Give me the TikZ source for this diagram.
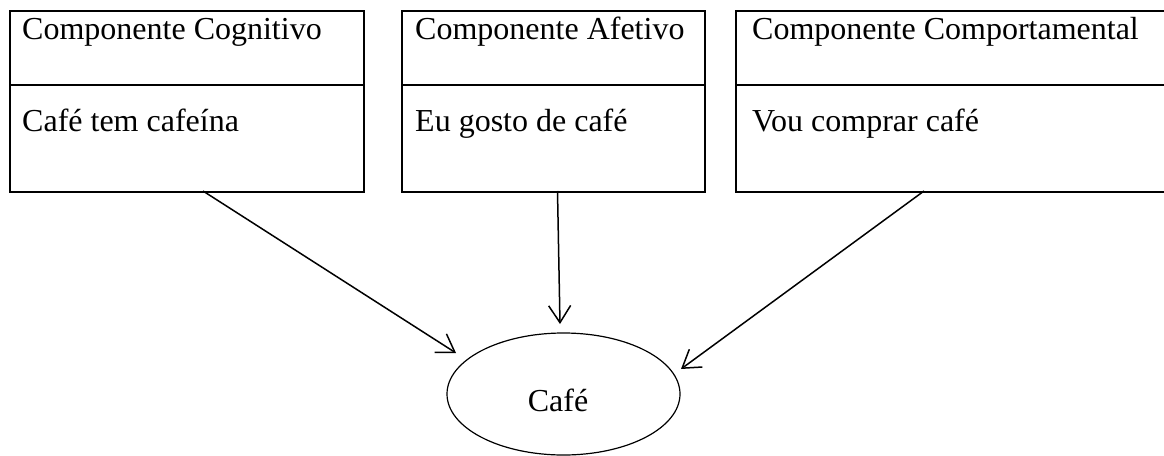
\documentclass[tikz,border=0pt]{standalone}
\usepackage{fontspec}
\setmainfont{Liberation Serif}
\usetikzlibrary{arrows.meta,shapes.geometric}
\begin{document}
\begin{tikzpicture}[x=1pt,y=-1pt,
  box/.style={draw,line width=2pt,rectangle,anchor=north west,inner sep=0pt},
  txt/.style={anchor=base west,inner sep=0pt,font=\fontsize{32pt}{38pt}\selectfont},
  conn/.style={line width=1.5pt,-{Straight Barb[length=17pt,width=22pt,line width=1.5pt]}},
  oval/.style={draw,ellipse,line width=1.2pt,inner sep=0pt}]
\useasboundingbox (0,0) rectangle (1164,455);
% boxes
\node[box,minimum width=354pt,minimum height=181pt] (b1) at (9,10) {};
\node[box,minimum width=303pt,minimum height=181pt] (b2) at (401,10) {};
\node[box,minimum width=440pt,minimum height=181pt] (b3) at (735,10) {};
\draw[line width=2pt] (9,85) -- (363,85);
\draw[line width=2pt] (401,85) -- (704,85);
\draw[line width=2pt] (735,85) -- (1175,85);
% texts
\node[txt] (t1) at (22,39) {Componente Cognitivo};
\node[txt] (t2) at (415,39) {Componente Afetivo};
\node[txt] (t3) at (752,39) {Componente Comportamental};
\node[txt] (s1) at (22,131) {Café tem cafeína};
\node[txt] (s2) at (415,131) {Eu gosto de café};
\node[txt] (s3) at (752,131) {Vou comprar café};
% ellipse
\node[oval,minimum width=233pt,minimum height=122pt] (cafe) at (563.5,394) {};
\node[anchor=base,inner sep=0pt,font=\fontsize{32pt}{38pt}\selectfont] (cafetxt) at (558,411) {Café};
% connector endpoints
\coordinate (a1) at (203,191);
\coordinate (a2) at (557.5,191);
\coordinate (a3) at (924,191);
\coordinate (e1) at (456,353);
\coordinate (e2) at (560,324);
\coordinate (e3) at (681,369);
\draw[conn] (a1) -- (e1);
\draw[conn] (a2) -- (e2);
\draw[conn] (a3) -- (e3);
\end{tikzpicture}
\end{document}
